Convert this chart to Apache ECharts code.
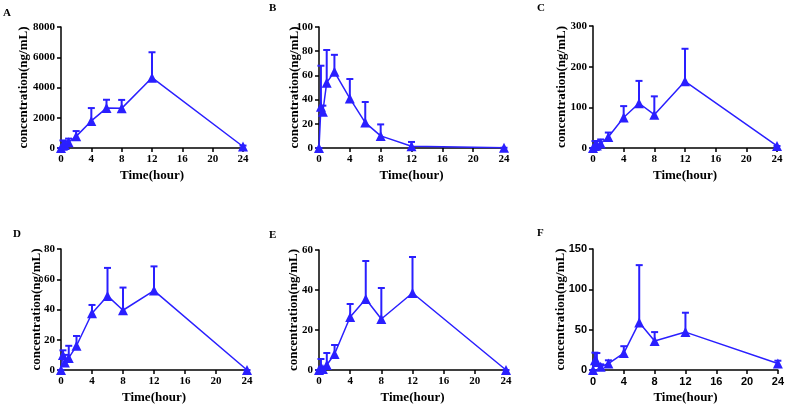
<!DOCTYPE html>
<html lang="en">
<head>
<meta charset="utf-8">
<title>Concentration-time profiles</title>
<script src="https://cdn.jsdelivr.net/npm/echarts@6/dist/echarts.min.js"></script>
<style>
  html, body { margin: 0; padding: 0; background: #fff; }
  #chart { width: 787px; height: 406px; }
</style>
</head>
<body>
<div id="chart"></div>
<script>
// sampling times (hour)
var times = [0, 0.25, 0.5, 1, 2, 4, 6, 8, 12, 24];
var xTicks = [0, 4, 8, 12, 16, 20, 24];

// mean concentration and SD (ng/mL)
var meanA = [0, 150, 200, 380, 770, 1790, 2640, 2620, 4650, 100];
var sdA   = [0, 350, 250, 240, 350, 850, 550, 560, 1680, 60];

var meanB = [0, 34, 30, 54, 63, 41, 21, 10, 1.5, 0.2];
var sdB   = [0, 34, 5, 27, 14, 16, 17, 9.5, 3.5, 0];

var meanC = [0, 5, 6, 11, 27, 75, 110, 82, 164, 5];
var sdC   = [0, 12, 11, 10, 11, 28, 55, 45, 80, 0];

var meanD = [0, 10, 5, 8, 16, 37.5, 49, 39.5, 52.5, 0];
var sdD   = [0, 3, 5, 8, 6.5, 5.5, 18.5, 15, 16, 0];

var meanE = [0, 1, 0.5, 2.5, 8, 26.5, 35.5, 25.5, 38.5, 0];
var sdE   = [0, 4.5, 0, 6, 4.5, 6.5, 19, 15.5, 18, 0];

var meanF = [0, 12, 10, 4, 8, 21, 59, 36, 47, 8];
var sdF   = [0, 9.5, 11, 3, 4, 8.5, 71, 11, 24, 3.5];

var panels = [
  { tag: 'A', mean: meanA, sd: sdA, yMax: 8000, yStep: 2000, left: 61,  top: 27,  w: 182, h: 121, gap: 31, lx: 3,   ly: 8 },
  { tag: 'B', mean: meanB, sd: sdB, yMax: 100,  yStep: 20,   left: 319, top: 27,  w: 185, h: 121, gap: 18, lx: 269, ly: 3 },
  { tag: 'C', mean: meanC, sd: sdC, yMax: 300,  yStep: 100,  left: 593, top: 26,  w: 184, h: 122, gap: 25, lx: 537, ly: 3 },
  { tag: 'D', mean: meanD, sd: sdD, yMax: 80,   yStep: 20,   left: 61,  top: 249, w: 186, h: 121, gap: 18, lx: 13,  ly: 229 },
  { tag: 'E', mean: meanE, sd: sdE, yMax: 60,   yStep: 20,   left: 319, top: 250, w: 187, h: 120, gap: 19, lx: 269, ly: 230 },
  { tag: 'F', mean: meanF, sd: sdF, yMax: 150,  yStep: 50,   left: 593, top: 249, w: 187, h: 121, gap: 26, lx: 537, ly: 228, sans: true }
];

var blue = '#2a1fff';
var serif = '"Liberation Serif", "Times New Roman", serif';
var sans = '"Liberation Sans", Arial, sans-serif';

var option = {
  backgroundColor: '#fff',
  animation: false,
  title: [], grid: [], xAxis: [], yAxis: [], series: []
};

panels.forEach(function (p, i) {
  var tickFont = p.sans ? sans : serif;
  option.title.push({
    text: p.tag, left: p.lx, top: p.ly, padding: 0,
    textStyle: { fontFamily: serif, fontWeight: 'bold', fontSize: 11, color: '#000' }
  });
  option.grid.push({ left: p.left, top: p.top, width: p.w, height: p.h });
  option.xAxis.push({
    type: 'value', gridIndex: i, min: 0, max: 24, interval: 4,
    name: 'Time(hour)', nameLocation: 'middle', nameGap: 21, nameMoveOverlap: false,
    nameTextStyle: { fontFamily: serif, fontWeight: 'bold', fontSize: 13, color: '#000' },
    axisLine: { onZero: false, lineStyle: { color: '#000', width: 1.5 } },
    axisTick: { length: 4, lineStyle: { color: '#000', width: 1.5 } },
    axisLabel: { margin: 6, fontFamily: tickFont, fontWeight: 'bold', fontSize: 11, color: '#000' },
    splitLine: { show: false }
  });
  option.yAxis.push({
    type: 'value', gridIndex: i, min: 0, max: p.yMax, interval: p.yStep,
    name: 'concentration(ng/mL)', nameLocation: 'middle', nameGap: p.gap, nameMoveOverlap: false,
    nameTextStyle: { fontFamily: serif, fontWeight: 'bold', fontSize: 13, color: '#000' },
    axisLine: { show: true, lineStyle: { color: '#000', width: 1.5 } },
    axisTick: { show: true, length: 4, lineStyle: { color: '#000', width: 1.5 } },
    axisLabel: {
      margin: 6, fontFamily: tickFont, fontWeight: 'bold', fontSize: 11, color: '#000',
      formatter: function (v) { return String(v); }
    },
    splitLine: { show: false }
  });

  // upper error bars with caps
  option.series.push({
    type: 'custom', xAxisIndex: i, yAxisIndex: i, z: 3,
    data: times.map(function (t, k) { return [t, p.mean[k], p.mean[k] + p.sd[k]]; }),
    renderItem: function (params, api) {
      var a = api.coord([api.value(0), api.value(1)]);
      var b = api.coord([api.value(0), api.value(2)]);
      var style = { stroke: blue, lineWidth: 2 };
      return {
        type: 'group',
        children: [
          { type: 'line', shape: { x1: a[0], y1: a[1], x2: b[0], y2: b[1] }, style: style },
          { type: 'line', shape: { x1: b[0] - 3.5, y1: b[1], x2: b[0] + 3.5, y2: b[1] }, style: style }
        ]
      };
    }
  });

  option.series.push({
    type: 'line', xAxisIndex: i, yAxisIndex: i, z: 4,
    data: times.map(function (t, k) { return [t, p.mean[k]]; }),
    symbol: 'triangle', symbolSize: 10, showAllSymbol: true,
    lineStyle: { color: blue, width: 1.5 },
    itemStyle: { color: blue }
  });
});

var myChart = echarts.init(document.getElementById('chart'));
myChart.setOption(option);
</script>
</body>
</html>
